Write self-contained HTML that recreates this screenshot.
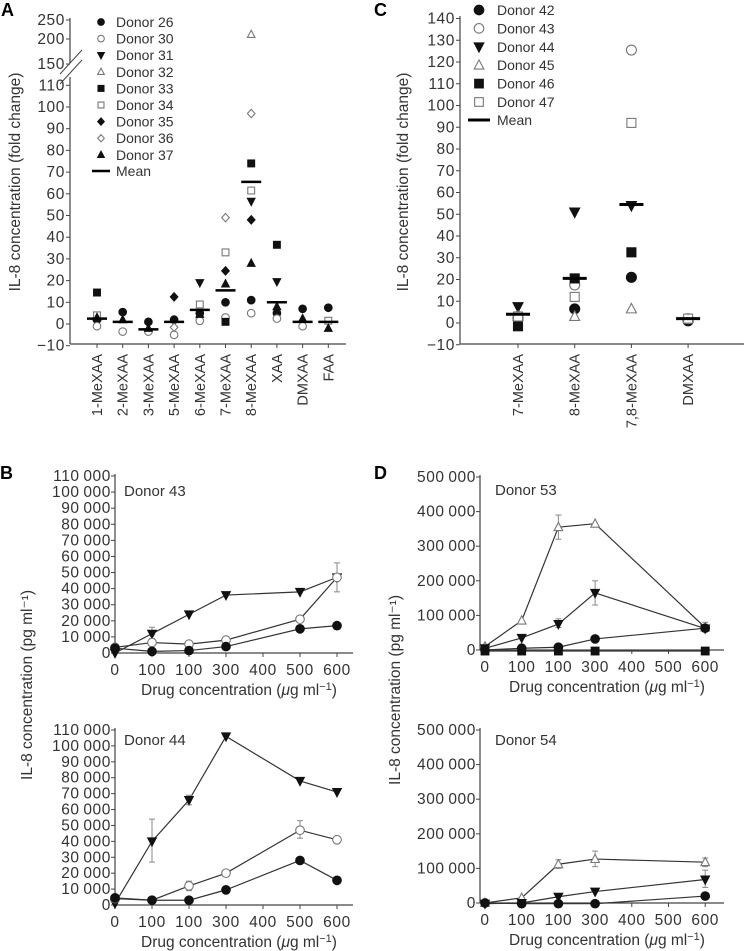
<!DOCTYPE html>
<html><head><meta charset="utf-8">
<style>
html,body{margin:0;padding:0;background:#fff;}
svg{display:block;font-family:"Liberation Sans",Arial,sans-serif;}
.tk{letter-spacing:0.6px;}
</style></head>
<body>
<svg id="fig" width="744" height="951" viewBox="0 0 744 951" xmlns="http://www.w3.org/2000/svg"></svg>
<script>
// ---------- Panel A data ----------
const catsA = ["1-MeXAA","2-MeXAA","3-MeXAA","5-MeXAA","6-MeXAA","7-MeXAA","8-MeXAA","XAA","DMXAA","FAA"];
const donorsA = ["Donor 26","Donor 30","Donor 31","Donor 32","Donor 33","Donor 34","Donor 35","Donor 36","Donor 37"];
const markersA = ["circle-f","circle-o","tridown-f","triup-o","square-f","square-o","diamond-f","diamond-o","triup-f"];
const valsA = [
  [2, 5.5, 1, 2, 5, 10, 11, 5, 7, 7.5],
  [-1, -3.5, -3.5, -5, 1.5, 3, 5, 2.5, -1, null],
  [null, null, null, null, 19, null, 56.5, 19.5, null, null],
  [null, null, null, null, null, null, 212, null, null, null],
  [14.5, null, null, null, null, 1, 74, 36.5, null, null],
  [4, null, null, null, 9, 33, 61.5, null, null, 1.5],
  [null, null, null, 12.5, null, 24.5, 48, null, null, null],
  [null, null, null, -1.5, null, 49, 97, null, null, null],
  [3, 2, -2, null, 4.5, 18.5, 28, 8, 2.5, -2]
];
const meansA = [2.5, 1, -2.5, 1, 6.5, 15.5, 65.5, 10, 1, 1];
const ticksA = [-10,0,10,20,30,40,50,60,70,80,90,100,110,150,200,250];

// ---------- Panel C data ----------
const catsC = ["7-MeXAA","8-MeXAA","7,8-MeXAA","DMXAA"];
const donorsC = ["Donor 42","Donor 43","Donor 44","Donor 45","Donor 46","Donor 47"];
const markersC = ["circle-f","circle-o","tridown-f","triup-o","square-f","square-o"];
const valsC = [
  [2.5, 6.5, 21, 1],
  [3, 17.5, 125.5, 2],
  [7.5, 51, 54, null],
  [3, 3, 6.5, null],
  [-1.5, 20.5, 32.5, null],
  [3, 12, 92, 2]
];
const meansC = [4, 20.5, 54.5, 2];
const ticksC = [-10,0,10,20,30,40,50,60,70,80,90,100,110,120,130,140];

// ---------- Panel B data ----------
const xLabelsBD = ["0","100","100","300","400","500","600"];
const ticksB = [0,10000,20000,30000,40000,50000,60000,70000,80000,90000,100000,110000];
const xIdxB = [0,1,2,3,5,6];
const b43Tri = [0, 12000, 24000, 36000, 38000, 47000];
const b43Open = [3500, 6500, 5500, 8000, 21000, 47000];
const b43Fill = [3000, 1000, 1500, 4000, 15000, 17000];
const b44Tri = [1000, 40000, 66000, 106000, 78000, 71000];
const b44Open = [4000, 3000, 12000, 20000, 47000, 41000];
const b44Fill = [4500, 3000, 3000, 9500, 28000, 15500];

// ---------- Panel D data ----------
const ticksD = [0,100000,200000,300000,400000,500000];
const xIdxD = [0,1,2,3,6];
const d53TriUp = [10000, 85000, 355000, 365000, 65000];
const d53TriDown = [5000, 35000, 75000, 165000, 62000];
const d53Fill = [0, 5000, 8000, 32000, 63000];
const d53Square = [-3000, -3000, -3000, -3000, -3000];
const d54TriUp = [0, 15000, 112000, 127000, 118000];
const d54TriDown = [-2000, 0, 18000, 33000, 68000];
const d54Fill = [0, -2000, -2000, -2000, 20000];

const NS = "http://www.w3.org/2000/svg";
const svg = document.getElementById("fig");
function el(tag, attrs, parent){
  const e = document.createElementNS(NS, tag);
  for (const k in attrs) e.setAttribute(k, attrs[k]);
  (parent||svg).appendChild(e);
  return e;
}
function txt(x,y,s,size,anchor,parent,extra){
  const t = el("text", Object.assign({x:x,y:y,"font-size":size,"text-anchor":anchor||"start",fill:"#333"}, extra||{}), parent);
  t.textContent = s;
  return t;
}
function fmt(n){ return n.toString().replace(/\B(?=(\d{3})+(?!\d))/g, "\u2009"); }

function marker(type, x, y, r, parent){
  const filled = type.endsWith("-f");
  const fill = filled ? "#111" : "#fff";
  const stroke = filled ? "#111" : "#777";
  const sw = 1.1;
  const kind = type.split("-")[0];
  let m;
  if (kind === "circle") m = el("circle",{cx:x,cy:y,r:r,fill:fill,stroke:stroke,"stroke-width":sw},parent);
  else if (kind === "square") m = el("rect",{x:x-r*0.9,y:y-r*0.9,width:r*1.8,height:r*1.8,fill:fill,stroke:stroke,"stroke-width":sw},parent);
  else if (kind === "diamond") m = el("polygon",{points:`${x},${y-r*1.1} ${x+r},${y} ${x},${y+r*1.1} ${x-r},${y}`,fill:fill,stroke:stroke,"stroke-width":sw},parent);
  else if (kind === "triup") m = el("polygon",{points:`${x},${y-r*1.1} ${x+r},${y+r*0.8} ${x-r},${y+r*0.8}`,fill:fill,stroke:stroke,"stroke-width":sw},parent);
  else m = el("polygon",{points:`${x},${y+r*1.1} ${x+r},${y-r*0.8} ${x-r},${y-r*0.8}`,fill:fill,stroke:stroke,"stroke-width":sw},parent);
  return m;
}

// ================= Panel A =================
const gA = el("g",{}); 


txt(1,16,"A",18,"start",gA,{"font-weight":"bold",fill:"#000"});
const axA = 70;
const breakVals = [110,150,200,250], breakPix = [85,64,39,20];
function yA(v){
  if (v <= 110) return 324 - v*2.17;
  for (let i=0;i<3;i++){ if (v <= breakVals[i+1]) return breakPix[i] + (v-breakVals[i])/(breakVals[i+1]-breakVals[i])*(breakPix[i+1]-breakPix[i]); }
  return 20;
}
function xA(i){ return 97 + i*25.7; }
el("line",{x1:axA,y1:18,x2:axA,y2:344,stroke:"#444","stroke-width":1.2},gA);
el("line",{x1:axA,y1:344,x2:346,y2:344,stroke:"#444","stroke-width":1.2},gA);
el("rect",{x:62,y:63,width:16,height:14,fill:"#fff"},gA);
el("line",{x1:60,y1:74,x2:82,y2:50,stroke:"#444","stroke-width":1},gA);
el("line",{x1:60,y1:84,x2:82,y2:60,stroke:"#444","stroke-width":1},gA);
ticksA.forEach(t=>{
  const y = yA(t);
  el("line",{x1:axA-4,y1:y,x2:axA,y2:y,stroke:"#444"},gA);
  const lab = txt(axA-5,y+5,t<0?"\u2212"+(-t):String(t),15.5,"end",gA,{class:"tk"});
  
  
});
const yTitleA = txt(0,0,"IL-8 concentration (fold change)",15.5,"middle",gA,{transform:"translate(20,182) rotate(-90)"});


catsA.forEach((c,i)=>{
  const x = xA(i);
  el("line",{x1:x,y1:344,x2:x,y2:348,stroke:"#444"},gA);
  const lab = txt(0,0,c,14.5,"end",gA,{transform:`translate(${x+5},354) rotate(-90)`});
  
  
});
valsA.forEach((row,d)=>{
  row.forEach((v,i)=>{
    if (v===null) return;
    const m = marker(markersA[d], xA(i), yA(v), 3.8, gA);
    
    
  });
});
meansA.forEach((v,i)=>{
  const l = el("line",{x1:xA(i)-10,y1:yA(v),x2:xA(i)+10,y2:yA(v),stroke:"#000","stroke-width":2.5},gA);
  
  
});
donorsA.forEach((d,i)=>{
  const y = 22 + i*16.6;
  marker(markersA[i], 101, y, 3.3, gA);
  const t = txt(116, y+5, d, 14, "start", gA);
  
  
});
el("line",{x1:92,y1:171,x2:110,y2:171,stroke:"#000","stroke-width":2.5},gA);
txt(116,176,"Mean",14,"start",gA);

// ================= Panel C =================
const gC = el("g",{});


txt(374,16,"C",18,"start",gC,{"font-weight":"bold",fill:"#000"});
const axC = 460;
function yC(v){ return 323 - v*2.175; }
function xC(i){ return 518 + i*56.7; }
el("line",{x1:axC,y1:16,x2:axC,y2:344,stroke:"#444","stroke-width":1.2},gC);
el("line",{x1:axC,y1:344,x2:744,y2:344,stroke:"#444","stroke-width":1.2},gC);
ticksC.forEach(t=>{
  const y = yC(t);
  el("line",{x1:axC-4,y1:y,x2:axC,y2:y,stroke:"#444"},gC);
  txt(axC-5,y+5,t<0?"\u2212"+(-t):String(t),15.5,"end",gC,{class:"tk"});
});
const yTitleC = txt(0,0,"IL-8 concentration (fold change)",15.5,"middle",gC,{transform:"translate(408,182) rotate(-90)"});


catsC.forEach((c,i)=>{
  const x = xC(i);
  el("line",{x1:x,y1:344,x2:x,y2:348,stroke:"#444"},gC);
  txt(0,0,c,14.5,"end",gC,{transform:`translate(${x+5},354) rotate(-90)`});
});
valsC.forEach((row,d)=>{
  row.forEach((v,i)=>{
    if (v===null) return;
    const m = marker(markersC[d], xC(i), yC(v), 5, gC);
    
    
  });
});
meansC.forEach((v,i)=>{
  const l = el("line",{x1:xC(i)-12,y1:yC(v),x2:xC(i)+12,y2:yC(v),stroke:"#000","stroke-width":3},gC);
  
  
});
donorsC.forEach((d,i)=>{
  const y = 10 + i*18.4;
  marker(markersC[i], 479, y, 4.8, gC);
  const t = txt(497, y+5, d, 14, "start", gC);
  
  
});
el("line",{x1:468,y1:120,x2:490,y2:120,stroke:"#000","stroke-width":3},gC);
txt(497,125,"Mean",14,"start",gC);

// ================= Line panels =================
function linePanel(o){
  const g = el("g",{});
  
  
  const yS = v => o.y0 - v/o.max*(o.y0-o.yTop);
  const xS = i => o.x0 + i*o.dx;
  el("line",{x1:o.ax,y1:o.yTop-2,x2:o.ax,y2:o.y0,stroke:"#444","stroke-width":1.2},g);
  el("line",{x1:o.ax,y1:o.y0,x2:o.xEnd,y2:o.y0,stroke:"#444","stroke-width":1.2},g);
  o.ticks.forEach(t=>{
    const y = yS(t);
    el("line",{x1:o.ax-4,y1:y,x2:o.ax,y2:y,stroke:"#444"},g);
    txt(o.ax-4,y+5,fmt(t),15.5,"end",g,{class:"tk"});
  });
  xLabelsBD.forEach((s,i)=>{
    el("line",{x1:xS(i),y1:o.y0,x2:xS(i),y2:o.y0+4,stroke:"#444"},g);
    txt(xS(i),o.y0+22,s,15.5,"middle",g,{class:"tk"});
  });
  const xt = el("text",{x:(o.ax+o.xEnd)/2+5,y:o.y0+42,"font-size":15.5,"text-anchor":"middle",fill:"#333"},g);
  xt.innerHTML = 'Drug concentration (<tspan font-style="italic">\u03bc</tspan>g ml<tspan font-size="11" dy="-5">\u22121</tspan><tspan dy="5">)</tspan>';
  
  
  const lab = txt(o.labX,o.labY,o.label,15,"start",g);
  
  
  o.series.forEach(s=>{
    const pts = s.vals.map((v,k)=>`${xS(o.idx[k])},${yS(v)}`).join(" ");
    el("polyline",{points:pts,fill:"none",stroke:"#333","stroke-width":1.2},g);
    if (s.err) s.err.forEach(e=>{
      const x = xS(o.idx[e[0]]);
      el("line",{x1:x,y1:yS(e[1]),x2:x,y2:yS(e[2]),stroke:"#888","stroke-width":1},g);
      el("line",{x1:x-3,y1:yS(e[1]),x2:x+3,y2:yS(e[1]),stroke:"#888","stroke-width":1},g);
      el("line",{x1:x-3,y1:yS(e[2]),x2:x+3,y2:yS(e[2]),stroke:"#888","stroke-width":1},g);
    });
    s.vals.forEach((v,k)=>{
      const m = marker(s.m, xS(o.idx[k]), yS(v), 4.3, g);
      
      
    });
  });
  return g;
}
const gB = el("g",{});
txt(0,479,"B",18,"start",gB,{"font-weight":"bold",fill:"#000"});
txt(374,479,"D",18,"start",gB,{"font-weight":"bold",fill:"#000"});
txt(0,0,"IL-8 concentration (pg ml\u207b\u00b9)",15.5,"middle",svg,{transform:"translate(32,685) rotate(-90)"});
txt(0,0,"IL-8 concentration (pg ml\u207b\u00b9)",15.5,"middle",svg,{transform:"translate(400,690) rotate(-90)"});

linePanel({name:"panel-b-donor-43",ax:115,x0:115,dx:37,xEnd:353,y0:653,yTop:476,max:110000,ticks:ticksB,idx:xIdxB,label:"Donor 43",labX:124,labY:496,
  series:[{m:"tridown-f",vals:b43Tri,err:[[1,9000,16000],[5,38000,56000]]},{m:"circle-o",vals:b43Open},{m:"circle-f",vals:b43Fill}]});
linePanel({name:"panel-b-donor-44",ax:115,x0:115,dx:37,xEnd:353,y0:905,yTop:730,max:110000,ticks:ticksB,idx:xIdxB,label:"Donor 44",labX:124,labY:745,
  series:[{m:"tridown-f",vals:b44Tri,err:[[1,27000,54000],[2,63000,69000]]},{m:"circle-o",vals:b44Open,err:[[2,9000,15000],[4,42000,53000]]},{m:"circle-f",vals:b44Fill}]});
linePanel({name:"panel-d-donor-53",ax:480,x0:485,dx:36.7,xEnd:724,y0:650,yTop:477,max:500000,ticks:ticksD,idx:xIdxD,label:"Donor 53",labX:495,labY:495,
  series:[{m:"triup-o",vals:d53TriUp,err:[[2,320000,390000],[4,55000,80000]]},{m:"tridown-f",vals:d53TriDown,err:[[3,130000,200000],[2,65000,90000]]},{m:"circle-f",vals:d53Fill},{m:"square-f",vals:d53Square}]});
linePanel({name:"panel-d-donor-54",ax:480,x0:485,dx:36.7,xEnd:724,y0:903,yTop:730,max:500000,ticks:ticksD,idx:xIdxD,label:"Donor 54",labX:495,labY:745,
  series:[{m:"triup-o",vals:d54TriUp,err:[[2,100000,125000],[3,105000,150000],[4,105000,130000]]},{m:"tridown-f",vals:d54TriDown,err:[[4,45000,95000]]},{m:"circle-f",vals:d54Fill}]});
</script>
</body></html>
